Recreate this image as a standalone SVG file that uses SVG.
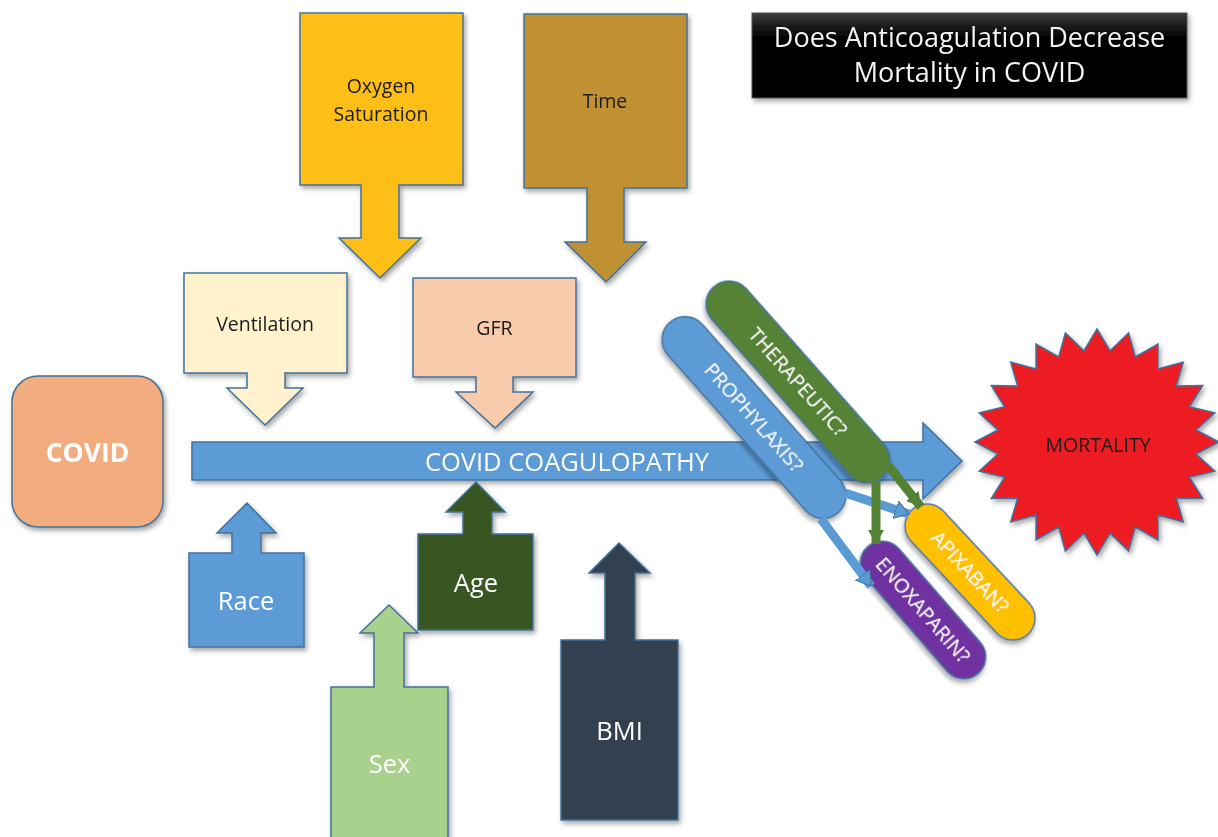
<svg xmlns="http://www.w3.org/2000/svg" width="1218" height="837" viewBox="0 0 1218 837">
<style>
text{font-family:"Open Sans","Noto Sans","Liberation Sans",sans-serif;text-anchor:middle}
.sh{stroke:#41719C;stroke-width:1.5;stroke-linejoin:miter}
.dk{fill:#1c1c1c;font-size:19.5px}
.wt{fill:#ffffff;font-size:25.5px}
.pt{fill:#ffffff;font-size:20px}
.cb{fill:none;stroke:#5B9BD5;stroke-width:9}
.cg{fill:none;stroke:#548235;stroke-width:9}
</style>
<defs>
<filter id="ds" x="-10%" y="-10%" width="125%" height="125%">
<feDropShadow dx="2" dy="3" stdDeviation="2.5" flood-color="#000" flood-opacity="0.35"/>
</filter>
<linearGradient id="tg" x1="0" y1="0" x2="0" y2="1">
<stop offset="0" stop-color="#3a3a3a"/>
<stop offset="0.3" stop-color="#000"/>
<stop offset="1" stop-color="#000"/>
</linearGradient>
<marker id="ab" markerUnits="userSpaceOnUse" markerWidth="18" markerHeight="20" refX="14" refY="10" orient="auto">
<path d="M0,1 L14,10 L0,19 Z" fill="#5B9BD5" stroke="#41719C" stroke-width="1"/>
</marker>
<marker id="ag" markerUnits="userSpaceOnUse" markerWidth="18" markerHeight="20" refX="14" refY="10" orient="auto">
<path d="M0,2 L14,10 L0,18 Z" fill="#548235"/>
</marker>
</defs>
<rect width="1218" height="837" fill="#ffffff"/>

<g id="title" filter="url(#ds)">
<rect x="752" y="13" width="435" height="85" fill="url(#tg)" stroke="#555" stroke-width="1"/>
<text x="969.5" y="47" fill="#f4f4f4" font-size="27">Does Anticoagulation Decrease</text>
<text x="969.5" y="82" fill="#f4f4f4" font-size="27">Mortality in COVID</text>
</g>

<g id="oxygen" filter="url(#ds)">
<path class="sh" fill="#FDBF16" d="M300,13 H463 V185 H399 V238 H421 L380,278 L339,238 H361 V185 H300 Z"/>
<text class="dk" x="381" y="93">Oxygen</text>
<text class="dk" x="381" y="121">Saturation</text>
</g>

<g id="time" filter="url(#ds)">
<path class="sh" fill="#BF9131" d="M524,14 H687 V188 H624 V242 H646 L606,282 L565,242 H587 V188 H524 Z"/>
<text class="dk" x="605" y="108">Time</text>
</g>

<g id="ventilation" filter="url(#ds)">
<path class="sh" fill="#FFF2CC" d="M184,273 H347 V373 H285 V388 H303 L265,425 L227,388 H247 V373 H184 Z"/>
<text class="dk" x="265" y="331" font-size="20">Ventilation</text>
</g>

<g id="gfr" filter="url(#ds)">
<path class="sh" fill="#F8CBAD" d="M413,278 H576 V377 H513 V392 H533 L495,428 L456,392 H476 V377 H413 Z"/>
<text class="dk" x="494.5" y="335" font-size="20">GFR</text>
</g>

<g id="covid" filter="url(#ds)">
<rect class="sh" x="12" y="376" width="151" height="151" rx="26" fill="#F2AC7E" stroke="#5a6a7a"/>
<text x="87.5" y="462" fill="#ffffff" font-size="26.5" font-weight="bold">COVID</text>
</g>

<g id="coagulopathy" filter="url(#ds)">
<path class="sh" fill="#5B9BD5" d="M192,442 H923 V423 L962,461 L923,499 V480 H192 Z"/>
<text class="wt" x="567" y="471">COVID COAGULOPATHY</text>
</g>

<g id="race" filter="url(#ds)">
<path class="sh" fill="#5B9BD5" d="M189,553 H232 V533 H217 L247,503 L276,533 H261 V553 H304 V647 H189 Z"/>
<text class="wt" x="246" y="610">Race</text>
</g>

<g id="age" filter="url(#ds)">
<path class="sh" fill="#385723" d="M418,534 H463 V512 H446 L476,482 L505,512 H492 V534 H533 V630 H418 Z"/>
<text class="wt" x="476" y="592" fill="#eef3e6">Age</text>
</g>

<g id="sex" filter="url(#ds)">
<path class="sh" fill="#A9D18E" d="M331,687 H374 V633 H360 L389,605 L418,633 H404 V687 H448 V845 H331 Z"/>
<text class="wt" x="389.5" y="773">Sex</text>
</g>

<g id="bmi" filter="url(#ds)">
<path class="sh" fill="#333F50" d="M561,640 H605 V573 H589 L619,543 L650,573 H635 V640 H678 V820 H561 Z"/>
<text class="wt" x="619.5" y="740">BMI</text>
</g>

<g id="mortality" filter="url(#ds)">
<polygon class="sh" fill="#ED1C24" points="1097,329 1110.1,350.8 1128.6,332.9 1135.3,357 1158,344.1 1157.9,369 1183.3,362.1 1176.3,386 1202.7,385.5 1189.4,406.8 1214.8,412.8 1196.1,430 1219,442 1196.1,454 1214.8,471.2 1189.4,477.2 1202.7,498.5 1176.3,498 1183.3,521.9 1157.9,515 1158,539.9 1135.3,527 1128.6,551.1 1110.1,533.2 1097,555 1083.9,533.2 1065.4,551.1 1058.7,527 1036,539.9 1036.1,515 1010.7,521.9 1017.7,498 991.3,498.5 1004.6,477.2 979.2,471.2 997.9,454 975,442 997.9,430 979.2,412.8 1004.6,406.8 991.3,385.5 1017.7,386 1010.7,362.1 1036.1,369 1036,344.1 1058.7,357 1065.4,332.9 1083.9,350.8"/>
<text class="dk" x="1098" y="452">MORTALITY</text>
</g>

<g id="therapeutic" filter="url(#ds)" transform="translate(798,382) rotate(48.5)">
<rect class="sh" x="-127" y="-23" width="254" height="46" rx="23" fill="#548235"/>
<text class="pt" x="0" y="7">THERAPEUTIC?</text>
</g>

<g id="prophylaxis" filter="url(#ds)" transform="translate(754,417.5) rotate(48.5)">
<rect class="sh" x="-127" y="-23" width="254" height="46" rx="23" fill="#5B9BD5"/>
<text class="pt" x="0" y="7">PROPHYLAXIS?</text>
</g>

<g id="apixaban" filter="url(#ds)" transform="translate(970,572) rotate(47)">
<rect class="sh" x="-85" y="-22" width="170" height="44" rx="22" fill="#FFC000"/>
<text class="pt" x="0" y="7" font-size="20.5">APIXABAN?</text>
</g>

<g id="enoxaparin" filter="url(#ds)" transform="translate(923,610) rotate(49)">
<rect class="sh" x="-84" y="-22" width="168" height="44" rx="22" fill="#7030A0"/>
<text class="pt" x="0" y="7" font-size="20.5">ENOXAPARIN?</text>
</g>

<g id="connectors">
<path class="cb" d="M845,493 L909,514" marker-end="url(#ab)"/>
<path class="cb" d="M821,519 L871,586" marker-end="url(#ab)"/>
<path class="cg" d="M876,481 L876,544" marker-end="url(#ag)"/>
<path class="cg" d="M888,465 L921,507" marker-end="url(#ag)"/>
</g>
</svg>
